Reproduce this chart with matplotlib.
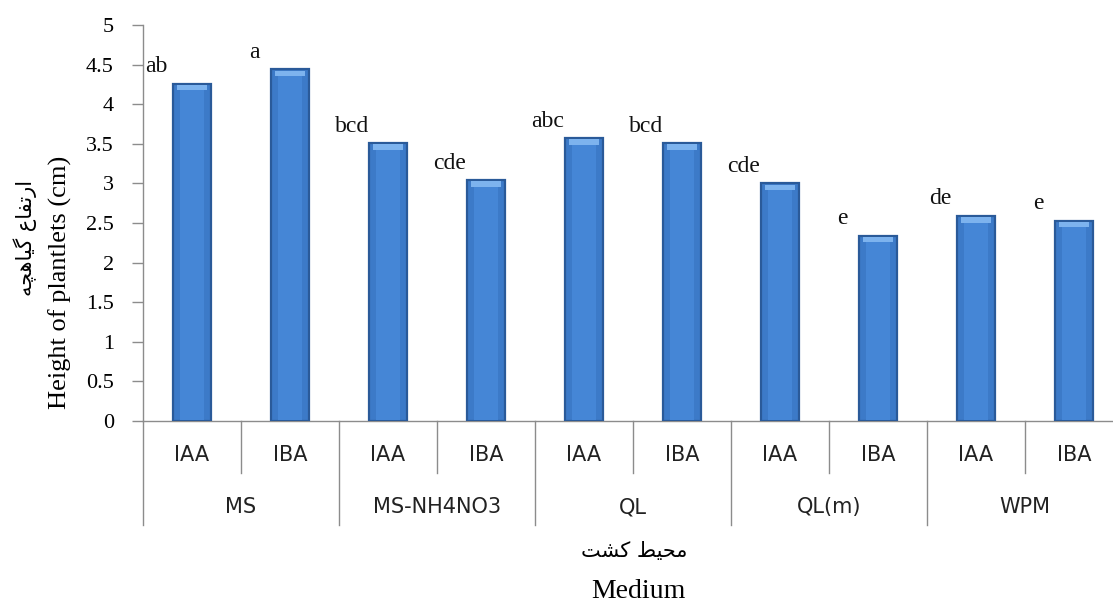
import matplotlib
matplotlib.use("Agg")
import matplotlib.pyplot as plt
from matplotlib.transforms import blended_transform_factory
import numpy as np

# ---------------- data ----------------
groups = ["MS", "MS-NH4NO3", "QL", "QL(m)", "WPM"]
hormones = ["IAA", "IBA"]
values = [4.26, 4.44, 3.51, 3.04, 3.57, 3.51, 3.00, 2.34, 2.59, 2.53]
letters = ["ab", "a", "bcd", "cde", "abc", "bcd", "cde", "e", "de", "e"]
yticks = [0, 0.5, 1, 1.5, 2, 2.5, 3, 3.5, 4, 4.5, 5]
ytick_labels = ["0", "0.5", "1", "1.5", "2", "2.5", "3", "3.5", "4", "4.5", "5"]
ylabel_en = "Height of plantlets (cm)"
ylabel_fa = "ارتفاع گیاهچه"
xlabel_en = "Medium"
xlabel_fa = "محیط کشت"

# ------------- minimal Persian shaping (presentation forms) -------------
# char: (isolated, final, initial, medial); None -> right-joining only
FORMS = {
    "ا": ("\uFE8D", "\uFE8E", None, None),
    "ر": ("\uFEAD", "\uFEAE", None, None),
    "ت": ("\uFE95", "\uFE96", "\uFE97", "\uFE98"),
    "ف": ("\uFED1", "\uFED2", "\uFED3", "\uFED4"),
    "ع": ("\uFEC9", "\uFECA", "\uFECB", "\uFECC"),
    "گ": ("\uFB92", "\uFB93", "\uFB94", "\uFB95"),
    "ی": ("\uFBFC", "\uFBFD", "\uFBFE", "\uFBFF"),
    "ه": ("\uFEE9", "\uFEEA", "\uFEEB", "\uFEEC"),
    "چ": ("\uFB7A", "\uFB7B", "\uFB7C", "\uFB7D"),
    "م": ("\uFEE1", "\uFEE2", "\uFEE3", "\uFEE4"),
    "ح": ("\uFEA1", "\uFEA2", "\uFEA3", "\uFEA4"),
    "ط": ("\uFEC1", "\uFEC2", "\uFEC3", "\uFEC4"),
    "ک": ("\uFB8E", "\uFB8F", "\uFB90", "\uFB91"),
    "ش": ("\uFEB5", "\uFEB6", "\uFEB7", "\uFEB8"),
}


def shape(text):
    out = []
    n = len(text)
    for i, ch in enumerate(text):
        if ch not in FORMS:
            out.append(ch)
            continue
        prev = text[i - 1] if i > 0 else None
        nxt = text[i + 1] if i < n - 1 else None
        join_prev = prev in FORMS and FORMS[prev][2] is not None
        join_next = nxt in FORMS and FORMS[ch][2] is not None
        iso, fin, ini, med = FORMS[ch]
        if join_prev and join_next:
            out.append(med)
        elif join_prev:
            out.append(fin)
        elif join_next:
            out.append(ini)
        else:
            out.append(iso)
    return "".join(out)[::-1]


# ---------------- figure ----------------
W, H, DPI = 1113, 605, 100
fig = plt.figure(figsize=(W / DPI, H / DPI), dpi=DPI)
ax = fig.add_axes([143 / W, 184 / H, 980 / W, 396 / H])

x = np.arange(len(values)) + 0.5
bw = 0.39
ax.bar(x, values, width=bw, color="#3C7AC8", edgecolor="#2A5A99", linewidth=1.6, zorder=3)
# inner lighter face
ax.bar(x, [v - 0.03 for v in values], width=bw * 0.62, bottom=0.015, color="#4586D6",
       edgecolor="none", zorder=4)
# top bevel highlight
ax.bar(x, [0.07] * len(values), bottom=[v - 0.085 for v in values], width=bw * 0.8,
       color="#7DB3EE", edgecolor="none", zorder=5)

ax.set_xlim(0, 10)
ax.set_ylim(0, 5)
ax.set_yticks(yticks)
ax.set_yticklabels(ytick_labels, fontfamily="Liberation Serif", fontsize=16)
ax.set_xticks([])

gray = "#8C8C8C"
for s in ["top", "right"]:
    ax.spines[s].set_visible(False)
for s in ["left", "bottom"]:
    ax.spines[s].set_color(gray)
    ax.spines[s].set_linewidth(1.0)
ax.tick_params(axis="y", direction="out", length=8, width=1.0, color=gray, pad=13)

# category dividers and labels
tr = blended_transform_factory(ax.transData, ax.transAxes)
for k in range(11):
    depth = -0.263 if k % 2 == 0 else -0.131
    ax.plot([k, k], [0, depth], color=gray, lw=1.0, transform=tr, clip_on=False)

for i, xi in enumerate(x):
    ax.text(xi, -0.086, hormones[i % 2], transform=tr, ha="center", va="center",
            fontsize=15, fontfamily="DejaVu Sans", color="#222222")
for g, name in enumerate(groups):
    ax.text(2 * g + 1, -0.218, name, transform=tr, ha="center", va="center",
            fontsize=15, fontfamily="DejaVu Sans", color="#222222")

# significance letters
for xi, v, lab in zip(x, values, letters):
    ax.annotate(lab, (xi, v), xytext=(-36, 17), textcoords="offset pixels",
                ha="center", va="center", fontsize=17, fontfamily="Liberation Serif",
                color="#111111")

# axis titles
fig.text(60 / W, 1 - 282 / H, ylabel_en, rotation=90, ha="center", va="center",
         fontsize=19, fontfamily="Liberation Serif")
fig.text(25 / W, 1 - 238 / H, shape(ylabel_fa), rotation=90, ha="center", va="center",
         fontsize=15, fontfamily="DejaVu Sans")
fig.text(634 / W, 1 - 551 / H, shape(xlabel_fa), ha="center", va="center",
         fontsize=15, fontfamily="DejaVu Sans")
fig.text(638 / W, 1 - 592 / H, xlabel_en, ha="center", va="center",
         fontsize=20, fontfamily="Liberation Serif")

fig.savefig("out.png", dpi=DPI)
